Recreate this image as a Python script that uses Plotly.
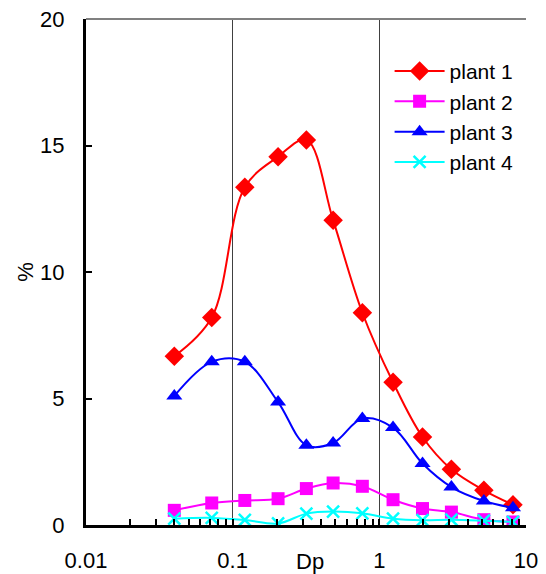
import plotly.graph_objects as go

# Particle diameter (Dp, µm) at each impactor stage
dp = [0.04, 0.072, 0.121, 0.204, 0.318, 0.484, 0.766, 1.24, 1.97, 3.1, 5.16, 8.15]

# Mass fraction (%) per stage for each plant
plant1 = [6.67, 8.20, 13.35, 14.56, 15.22, 12.05, 8.39, 5.64, 3.48, 2.20, 1.37, 0.80]
plant2 = [0.58, 0.87, 0.97, 1.04, 1.44, 1.66, 1.53, 1.00, 0.65, 0.51, 0.21, 0.12]
plant3 = [5.10, 6.45, 6.45, 4.86, 3.15, 3.24, 4.21, 3.85, 2.43, 1.50, 0.95, 0.68]
plant4 = [0.25, 0.28, 0.20, 0.06, 0.45, 0.53, 0.46, 0.25, 0.19, 0.21, 0.17, 0.12]

series = [
    ("plant 1", plant1, "#FF0000", "diamond", 15),
    ("plant 2", plant2, "#FF00FF", "square", 13),
    ("plant 3", plant3, "#0000FF", "triangle-up", 14),
    ("plant 4", plant4, "#00FFFF", "x-thin", 12),
]

x_ticks = [0.01, 0.1, 1, 10]
x_ticktext = ["0.01", "0.1", "1", "10"]
y_ticks = [0, 5, 10, 15, 20]

FONT = "Liberation Sans, Arial, sans-serif"
FS = 22

fig = go.Figure()
for name, vals, color, symbol, size in series:
    marker = dict(symbol=symbol, size=size, color=color)
    if symbol == "x-thin":
        marker["line"] = dict(color=color, width=2.5)
    fig.add_trace(go.Scatter(
        x=dp, y=vals, name=name, legendgroup=name,
        mode="lines+markers",
        line=dict(color=color, width=2, shape="spline", smoothing=1),
        marker=marker,
    ))

fig.update_layout(
    width=546, height=574,
    margin=dict(l=86, r=20, t=19, b=49),
    paper_bgcolor="white", plot_bgcolor="white",
    font=dict(family=FONT, size=FS, color="black"),
    showlegend=True,
    legend=dict(
        x=0.69, y=0.937, xanchor="left", yanchor="top",
        bgcolor="rgba(0,0,0,0)", borderwidth=0,
        font=dict(family=FONT, size=21, color="black"),
        itemwidth=50, tracegroupgap=0,
    ),
    xaxis=dict(
        type="log", range=[-2, 1], automargin=False,
        tickvals=x_ticks, ticktext=x_ticktext,
        tickfont=dict(family=FONT, size=FS),
        ticks="inside", ticklen=6, tickwidth=2, tickcolor="black",
        showline=True, linecolor="black", linewidth=3,
        showgrid=True, gridcolor="#404040", gridwidth=1,
        zeroline=False, ticklabelstandoff=14,
        minor=dict(ticks="inside", ticklen=6, tickwidth=2, tickcolor="black",
                   dtick="D1", showgrid=False),
    ),
    yaxis=dict(
        range=[0, 20], tickvals=y_ticks, automargin=False,
        tickfont=dict(family=FONT, size=FS),
        ticks="inside", ticklen=6, tickwidth=2, tickcolor="black",
        showline=True, linecolor="black", linewidth=3,
        showgrid=False, zeroline=False, ticklabelstandoff=14,
        title=dict(text="%", standoff=1, font=dict(family=FONT, size=FS)),
    ),
    annotations=[dict(
        text="Dp", xref="paper", yref="paper", x=0.509, y=0,
        xanchor="center", yanchor="top", yshift=-22, showarrow=False,
        font=dict(family=FONT, size=FS),
    )],
)

# thin frame line along the top of the plotting area
fig.add_shape(type="line", xref="paper", yref="paper", x0=0, x1=1, y0=1, y1=1,
              line=dict(color="#808080", width=2))
# white panel behind the legend, hiding the gridlines there
fig.add_shape(type="rect", xref="paper", yref="paper", x0=0.664, x1=1.01,
              y0=0.680, y1=0.925, layer="between",
              fillcolor="white", line=dict(width=0))

fig.write_html("out.html")
